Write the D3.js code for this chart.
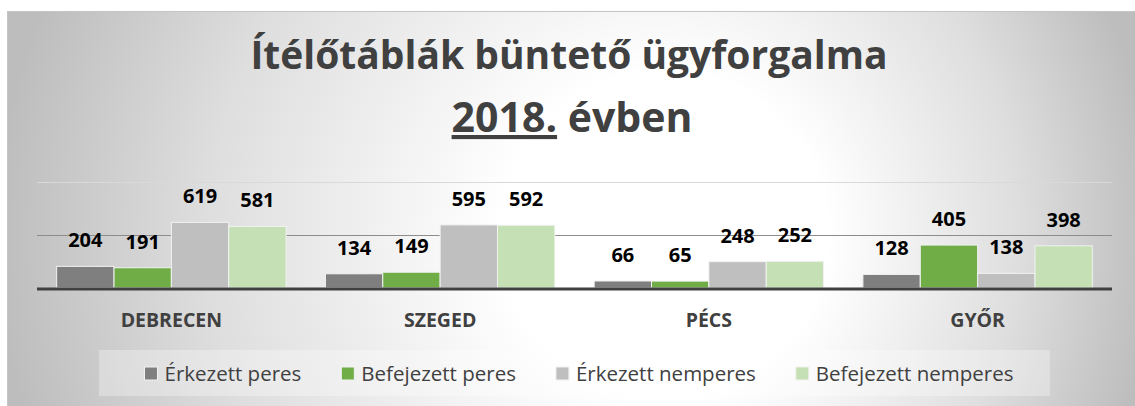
<!DOCTYPE html>
<html>
<head>
<meta charset="utf-8">
<script src="https://cdn.jsdelivr.net/npm/d3@7"></script>
<style>
  body { margin: 0; background: #fff; }
  svg { display: block; font-family: "Open Sans", sans-serif; }
</style>
</head>
<body>
<div id="chart"></div>
<script>
// chart data
const categories = ['DEBRECEN', 'SZEGED', 'PÉCS', 'GYŐR']
const seriesNames = ['Érkezett peres', 'Befejezett peres', 'Érkezett nemperes', 'Befejezett nemperes']
const erkezettPeres = [204, 134, 66, 128]
const befejezettPeres = [191, 149, 65, 405]
const erkezettNemperes = [619, 595, 248, 138]
const befejezettNemperes = [581, 592, 252, 398]
const gridTicks = [500, 1000]

const seriesValues = [erkezettPeres, befejezettPeres, erkezettNemperes, befejezettNemperes]
const colors = ['#7f7f7f', '#70ad47', '#bfbfbf', '#c5e0b4']

const W = 1135, H = 406
let margin = {top: 182, bottom: 118, left: 37, right: 23}

let svg = d3.select('#chart').append('svg')
  .attr('width', W)
  .attr('height', H)

// background gradient
let defs = svg.append('defs')
let grad = defs.append('radialGradient')
  .attr('id', 'bg')
  .attr('gradientUnits', 'userSpaceOnUse')
  .attr('cx', 575).attr('cy', 235).attr('r', 580)
  .attr('fx', 700).attr('fy', 235)
grad.append('stop').attr('offset', '0%').attr('stop-color', '#ffffff')
grad.append('stop').attr('offset', '28%').attr('stop-color', '#ffffff')
grad.append('stop').attr('offset', '70%').attr('stop-color', '#dedede')
grad.append('stop').attr('offset', '100%').attr('stop-color', '#bdbdbd')

svg.append('rect')
  .attr('x', 7).attr('y', 11)
  .attr('width', W - 7).attr('height', H - 11)
  .attr('fill', 'url(#bg)')
svg.append('path')
  .attr('d', `M7.5,${H} V11.5 H${W}`)
  .attr('fill', 'none')
  .attr('stroke', '#c4c4c4')

// title
let title = svg.append('g').attr('fill', '#404040').attr('font-weight', 'bold').attr('text-anchor', 'middle')
title.append('text')
  .attr('x', 569).attr('y', 69)
  .attr('font-size', 39)
  .text('Ítélőtáblák büntető ügyforgalma')
let t2 = title.append('text')
  .attr('x', 572).attr('y', 132)
  .attr('font-size', 41)
t2.append('tspan').attr('text-decoration', 'underline').text('2018.')
t2.append('tspan').text(' évben')

// scales
let x0 = d3.scaleBand()
  .domain(categories)
  .range([margin.left, W - margin.right])

let x1 = d3.scaleBand()
  .domain(d3.range(seriesNames.length))
  .range([0, x0.bandwidth()])
  .paddingOuter(0.343)

let y = d3.scaleLinear()
  .domain([0, 1000])
  .range([H - margin.bottom, margin.top])

// gridlines
svg.append('g').selectAll('line').data(gridTicks).enter().append('line')
  .attr('x1', margin.left).attr('x2', W - margin.right)
  .attr('y1', d => Math.round(y(d)) + 0.5)
  .attr('y2', d => Math.round(y(d)) + 0.5)
  .attr('stroke', d => d === 1000 ? '#d9d9d9' : '#8c8c8c')
  .attr('stroke-width', 1)

// bars
let groups = svg.append('g').selectAll('g').data(categories).enter().append('g')
  .attr('transform', d => 'translate(' + x0(d) + ',0)')

groups.selectAll('rect')
  .data((c, ci) => seriesValues.map((s, si) => ({si: si, v: s[ci]})))
  .enter().append('rect')
  .attr('x', d => x1(d.si))
  .attr('y', d => y(d.v))
  .attr('width', x1.bandwidth())
  .attr('height', d => y(0) - y(d.v))
  .attr('fill', d => colors[d.si])
  .attr('stroke', '#f2f2f2')
  .attr('stroke-width', 1)

// value labels
groups.selectAll('text')
  .data((c, ci) => seriesValues.map((s, si) => ({si: si, v: s[ci]})))
  .enter().append('text')
  .attr('x', d => x1(d.si) + x1.bandwidth() / 2)
  .attr('y', d => y(d.v) - 19)
  .attr('text-anchor', 'middle')
  .attr('font-size', 20)
  .attr('font-weight', 'bold')
  .attr('fill', '#000')
  .text(d => d.v)

// category axis
let xAxis = svg.append('g')
  .attr('transform', 'translate(0,' + (y(0) + 1) + ')')
  .call(d3.axisBottom(x0).tickSize(0).tickPadding(24))
xAxis.select('.domain')
  .attr('d', `M${margin.left},0H${W - margin.right}`)
  .attr('stroke', '#404040')
  .attr('stroke-width', 3)
xAxis.selectAll('text')
  .attr('font-size', 19.5)
  .attr('font-weight', 'bold')
  .attr('fill', '#404040')
  .attr('font-family', '"Open Sans", sans-serif')

// legend
svg.append('rect')
  .attr('x', 99).attr('y', 350)
  .attr('width', 951).attr('height', 46)
  .attr('fill', '#ffffff').attr('fill-opacity', 0.3)

let legend = svg.append('g')
let items = legend.selectAll('g').data(seriesNames).enter().append('g')
items.append('rect')
  .attr('width', 13).attr('height', 13)
  .attr('y', 367)
  .attr('fill', (d, i) => colors[i])
  .attr('stroke', '#f2f2f2')
items.append('text')
  .attr('x', 20).attr('y', 381)
  .attr('font-size', 20.5)
  .attr('fill', '#404040')
  .text(d => d)

// lay the legend items out side by side, centered
let widths = []
items.select('text').each(function () { widths.push(20 + this.getComputedTextLength()) })
let gap = 40
let total = d3.sum(widths) + gap * (widths.length - 1)
let start = 579 - total / 2
items.each(function (d, i) {
  let off = start + d3.sum(widths.slice(0, i)) + gap * i
  d3.select(this).select('rect').attr('x', off)
  d3.select(this).select('text').attr('x', off + 20)
})
</script>
</body>
</html>
